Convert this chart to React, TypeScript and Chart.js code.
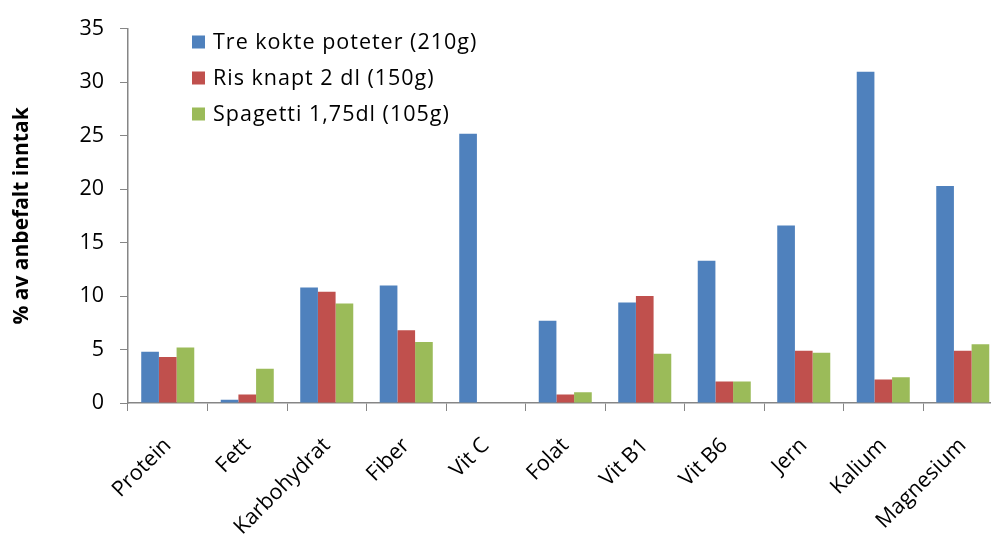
import React, { useEffect, useRef } from "react";
import { Chart, registerables } from "chart.js";

Chart.register(...registerables);

const categories = ["Protein", "Fett", "Karbohydrat", "Fiber", "Vit C", "Folat", "Vit B1", "Vit B6", "Jern", "Kalium", "Magnesium"];
const poteterValues = [4.8, 0.3, 10.8, 11.0, 25.2, 7.7, 9.4, 13.3, 16.6, 31.0, 20.3];
const risValues = [4.3, 0.8, 10.4, 6.8, 0, 0.8, 10.0, 2.0, 4.9, 2.2, 4.9];
const spagettiValues = [5.2, 3.2, 9.3, 5.7, 0, 1.0, 4.6, 2.0, 4.7, 2.4, 5.5];
const seriesLabels = ["Tre kokte poteter (210g)", "Ris knapt 2 dl (150g)", "Spagetti 1,75dl (105g)"];
const yTitle = "% av anbefalt inntak";

const FONT = "'Open Sans', 'Noto Sans', sans-serif";
const colors = ["#4F81BD", "#C0504D", "#9BBB59"];

const legendPlugin = {
  id: "insideLegend",
  afterDraw(chart: any) {
    const ctx = chart.ctx;
    ctx.save();
    ctx.font = `21.5px ${FONT}`;
    try { ctx.letterSpacing = "1px"; } catch (e) {}
    ctx.textBaseline = "middle";
    ctx.textAlign = "left";
    chart.data.datasets.forEach((ds: any, i: number) => {
      const cy = 42 + i * 36;
      ctx.fillStyle = ds.backgroundColor;
      ctx.fillRect(192, cy - 6.5, 13, 13);
      ctx.fillStyle = "#000";
      ctx.fillText(ds.label, 213, cy + 1);
    });
    try { ctx.letterSpacing = "0px"; } catch (e) {}
    ctx.restore();
  },
};

export default function App() {
  const ref = useRef<HTMLCanvasElement | null>(null);
  useEffect(() => {
    if (!ref.current) return;
    const values = [poteterValues, risValues, spagettiValues];
    const chart = new Chart(ref.current, {
      type: "bar",
      data: {
        labels: categories,
        datasets: values.map((v, i) => ({
          label: seriesLabels[i],
          data: v,
          backgroundColor: colors[i],
          borderWidth: 0,
          categoryPercentage: 0.667,
          barPercentage: 1,
        })),
      },
      options: {
        responsive: false,
        animation: false,
        layout: { padding: { top: 25, left: 0, right: 0, bottom: 0 } },
        plugins: {
          legend: { display: false },
          tooltip: { enabled: false },
        },
        scales: {
          x: {
            grid: { display: true, drawOnChartArea: false, drawTicks: true, tickLength: 8, color: "#868686", offset: true },
            border: { color: "#868686", width: 1.5 },
            ticks: {
              color: "#000",
              font: { family: FONT, size: 21.5 },
              minRotation: 45,
              maxRotation: 45,
              autoSkip: false,
              padding: 22,
            },
            afterFit: (scale: any) => {
              scale.height = 134;
            },
          },
          y: {
            min: 0,
            max: 35,
            grid: { display: true, drawOnChartArea: false, drawTicks: true, tickLength: 8, color: "#868686" },
            border: { color: "#868686", width: 1.5 },
            ticks: {
              stepSize: 5,
              color: "#000",
              font: { family: FONT, size: 21.5 },
              padding: 16,
            },
            title: {
              display: true,
              text: yTitle,
              color: "#000",
              font: { family: FONT, size: 21, weight: "bold" },
              padding: { top: 9, bottom: 0 },
            },
            afterFit: (scale: any) => {
              scale.width = 128;
            },
          },
        },
      },
      plugins: [legendPlugin],
    });
    return () => chart.destroy();
  }, []);
  return (
    <div style={{ position: "fixed", left: 0, top: 0, width: 991, height: 537, overflow: "hidden", background: "#fff" }}>
      <canvas ref={ref} width={1003} height={537} style={{ display: "block" }} />
    </div>
  );
}
